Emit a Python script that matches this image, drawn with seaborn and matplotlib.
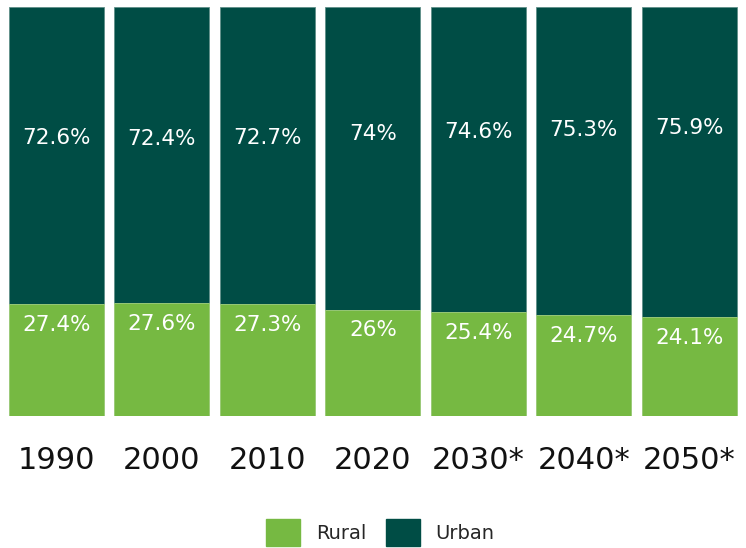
import pandas as pd
import matplotlib.pyplot as plt
import seaborn as sns
from matplotlib.patches import Patch

# Share of population, rural vs urban (%)
years = ['1990', '2000', '2010', '2020', '2030*', '2040*', '2050*']
rural = [27.4, 27.6, 27.3, 26, 25.4, 24.7, 24.1]
urban = [72.6, 72.4, 72.7, 74, 74.6, 75.3, 75.9]

rural_color = '#76b942'
urban_color = '#004d45'

df = pd.DataFrame({'Year': years, 'Rural': rural, 'Urban': urban})
df['Total'] = df['Rural'] + df['Urban']

sns.set_style('white')
plt.rcParams['font.family'] = ['DejaVu Sans']

fig = plt.figure(figsize=(7.46, 5.48), dpi=100)
ax = fig.add_axes([0.0048, 0.241, 0.99, 0.746])

# stacked: full bar in urban colour, rural drawn over the bottom part
sns.barplot(data=df, x='Year', y='Total', color=urban_color, width=0.9,
            saturation=1, ax=ax, edgecolor='#5f8f88', linewidth=0.6)
sns.barplot(data=df, x='Year', y='Rural', color=rural_color, width=0.9,
            saturation=1, ax=ax, edgecolor='#a6d27f', linewidth=0.6)

for i, row in df.iterrows():
    ax.annotate(f"{row['Rural']:g}%", (i, row['Rural']), xytext=(0, -15),
                textcoords='offset points', ha='center', va='center',
                color='white', fontsize=15.5)
    ax.text(i, 15.2 + 0.727 * row['Urban'], f"{row['Urban']:g}%",
            ha='center', va='center', color='white', fontsize=15.5)

ax.set_xlim(-0.5, len(years) - 0.5)
ax.set_ylim(0, 100)
ax.set_xlabel('')
ax.set_ylabel('')
ax.set_yticks([])
ax.tick_params(axis='x', length=0, pad=22, labelsize=22, labelcolor='#111111')
sns.despine(ax=ax, left=True, bottom=True)

handles = [Patch(color=rural_color, label='Rural'),
           Patch(color=urban_color, label='Urban')]
fig.legend(handles=handles, loc='lower center', bbox_to_anchor=(0.51, -0.028),
           ncol=2, frameon=False, fontsize=14, handlelength=1.75,
           handleheight=1.75, columnspacing=1.0, handletextpad=0.8)

fig.savefig('out.png', dpi=100)
